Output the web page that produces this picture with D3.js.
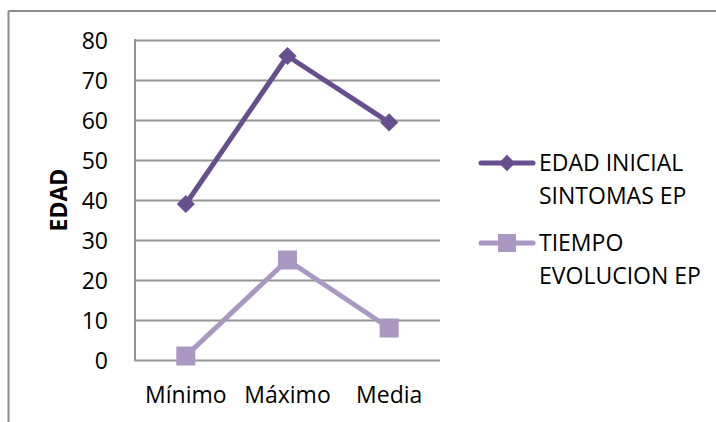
<!DOCTYPE html>
<html>
<head>
<meta charset="utf-8">
<script src="https://cdn.jsdelivr.net/npm/d3@7"></script>
<style>
  html, body { margin: 0; padding: 0; background: #fff; }
  svg { display: block; }
  text { font-family: "Open Sans", "Noto Sans", sans-serif; fill: #000; }
</style>
</head>
<body>
<svg id="chart" width="716" height="422"></svg>
<script>
const categories = ["Mínimo", "Máximo", "Media"];
const edadInicial = [39, 76, 59.4];
const tiempoEvolucion = [1, 25, 8];
const yTicks = [0, 10, 20, 30, 40, 50, 60, 70, 80];
const seriesNames = [["EDAD INICIAL", "SINTOMAS EP"], ["TIEMPO", "EVOLUCION EP"]];
const seriesColors = ["#674F8F", "#A898C2"];
const yTitle = "EDAD";

const svg = d3.select("#chart");
const W = 716, H = 422;
const FS = "23px";

// outer frame (top and left edges visible)
svg.append("line").attr("x1", 8.5).attr("x2", W).attr("y1", 11).attr("y2", 11)
  .attr("stroke", "#8c8c8c").attr("stroke-width", 2);
svg.append("line").attr("x1", 8.5).attr("x2", 8.5).attr("y1", 11).attr("y2", H)
  .attr("stroke", "#8c8c8c").attr("stroke-width", 2);

const plot = { left: 135, right: 440, top: 40, bottom: 360 };

const x = d3.scaleBand().domain(categories).range([plot.left, plot.right]);
const y = d3.scaleLinear().domain([0, 80]).range([plot.bottom, plot.top]);

// gridlines
const grid = svg.append("g").attr("transform", `translate(${plot.left},0)`)
  .call(d3.axisLeft(y).tickValues(yTicks).tickSize(-(plot.right - plot.left)).tickFormat(""));
grid.select(".domain").remove();
grid.selectAll(".tick line").attr("stroke", "#949494").attr("stroke-width", 2);

// y axis line
svg.append("line").attr("x1", plot.left).attr("x2", plot.left)
  .attr("y1", plot.top - 1).attr("y2", plot.bottom + 1)
  .attr("stroke", "#949494").attr("stroke-width", 2);

// y tick labels
const yAxis = svg.append("g").attr("transform", `translate(${plot.left},0)`)
  .call(d3.axisLeft(y).tickValues(yTicks).tickSize(0).tickPadding(27));
yAxis.select(".domain").remove();
yAxis.selectAll("text").style("font-family", "'Open Sans', sans-serif")
  .style("font-size", FS).attr("fill", "#000").attr("dy", "0.36em");

// x labels
const xAxis = svg.append("g").attr("transform", `translate(0,${plot.bottom})`)
  .call(d3.axisBottom(x).tickSize(0).tickPadding(0));
xAxis.select(".domain").remove();
xAxis.selectAll("text").style("font-family", "'Open Sans', sans-serif")
  .style("font-size", FS).attr("fill", "#000").attr("y", 43).attr("dy", 0);

// y title
svg.append("text")
  .attr("transform", `translate(67,200) rotate(-90)`)
  .attr("text-anchor", "middle")
  .style("font-size", FS).style("font-weight", "bold")
  .text(yTitle);

const cx = c => x(c) + x.bandwidth() / 2;
const line = d3.line().x((d, i) => cx(categories[i])).y(d => y(d));

// series 2 (light, squares)
svg.append("path").datum(tiempoEvolucion).attr("d", line)
  .attr("fill", "none").attr("stroke", seriesColors[1]).attr("stroke-width", 5)
  .attr("stroke-linejoin", "round");
svg.selectAll(".sq").data(tiempoEvolucion).enter().append("rect")
  .attr("x", (d, i) => cx(categories[i]) - 9.5).attr("y", d => y(d) - 9.5)
  .attr("width", 19).attr("height", 19).attr("fill", seriesColors[1]);

// series 1 (dark, diamonds)
svg.append("path").datum(edadInicial).attr("d", line)
  .attr("fill", "none").attr("stroke", seriesColors[0]).attr("stroke-width", 5)
  .attr("stroke-linejoin", "round");
const diamond = d3.symbol().type(d3.symbolDiamond2).size(210);
svg.selectAll(".dm").data(edadInicial).enter().append("path")
  .attr("d", diamond)
  .attr("transform", (d, i) => `translate(${cx(categories[i])},${y(d)})`)
  .attr("fill", seriesColors[0]);

// legend
const legY = [163, 243];
seriesNames.forEach((names, i) => {
  const g = svg.append("g");
  g.append("line").attr("x1", 481).attr("x2", 533).attr("y1", legY[i]).attr("y2", legY[i])
    .attr("stroke", seriesColors[i]).attr("stroke-width", 5).attr("stroke-linecap", "round");
  if (i === 0) {
    g.append("path").attr("d", d3.symbol().type(d3.symbolDiamond2).size(170))
      .attr("transform", `translate(507,${legY[i]})`).attr("fill", seriesColors[i]);
  } else {
    g.append("rect").attr("x", 507 - 9).attr("y", legY[i] - 9).attr("width", 18).attr("height", 18)
      .attr("fill", seriesColors[i]);
  }
  names.forEach((t, j) => {
    g.append("text").attr("x", 539).attr("y", legY[i] + 8 + j * 33)
      .style("font-size", FS).text(t);
  });
});
</script>
</body>
</html>
